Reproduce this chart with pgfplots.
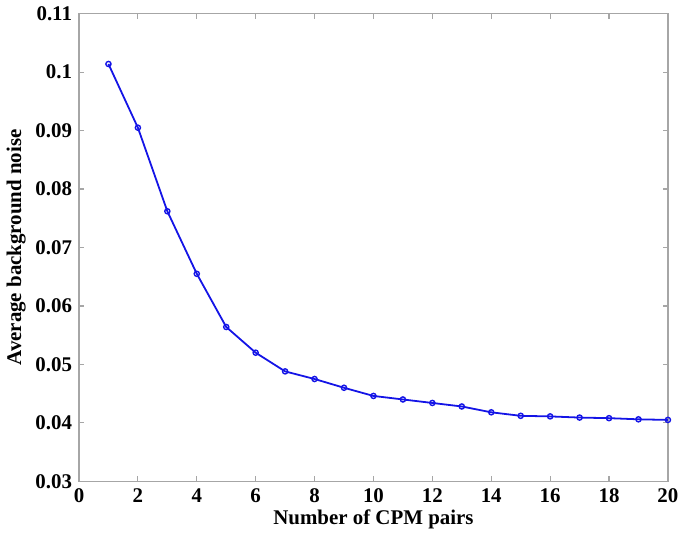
\documentclass[border=0pt]{standalone}
\usepackage{fontspec}
\setmainfont{Liberation Serif}
\usepackage{pgfplots}
\pgfplotsset{compat=1.18}
\definecolor{lineblue}{RGB}{20,20,230}
\begin{document}
\begin{tikzpicture}
\begin{axis}[
    scale only axis,
    width=296pt,
    height=235pt,
    xmin=0, xmax=20,
    ymin=0.03, ymax=0.11,
    xtick={0,2,...,20},
    ytick={0.03,0.04,...,0.11},
    yticklabel style={/pgf/number format/fixed,/pgf/number format/precision=2},
    scaled y ticks=false,
    tick align=inside,
    major tick length=2.5pt,
    axis line style={gray!70, line width=0.6pt},
    tick style={gray!70, line width=0.6pt},
    ticklabel style={font=\fontsize{10.5}{12}\selectfont\bfseries},
    /pgf/number format/assume math mode=true,
    xlabel={Number of CPM pairs},
    ylabel={Average background noise},
    label style={font=\fontsize{10.5}{12}\selectfont\bfseries},
    xlabel style={yshift=3pt},
    ylabel style={yshift=-2pt},
]
\addplot[color=lineblue, line width=0.9pt, mark=o, mark size=1.3pt, mark options={line width=0.7pt}] coordinates {
(1,0.1014) (2,0.0905) (3,0.0762) (4,0.0655) (5,0.0564)
(6,0.0520) (7,0.0488) (8,0.0475) (9,0.0460) (10,0.0446)
(11,0.0440) (12,0.0434) (13,0.0428) (14,0.0418) (15,0.0412)
(16,0.0411) (17,0.0409) (18,0.0408) (19,0.0406) (20,0.0405)
};
\end{axis}
\end{tikzpicture}
\end{document}
